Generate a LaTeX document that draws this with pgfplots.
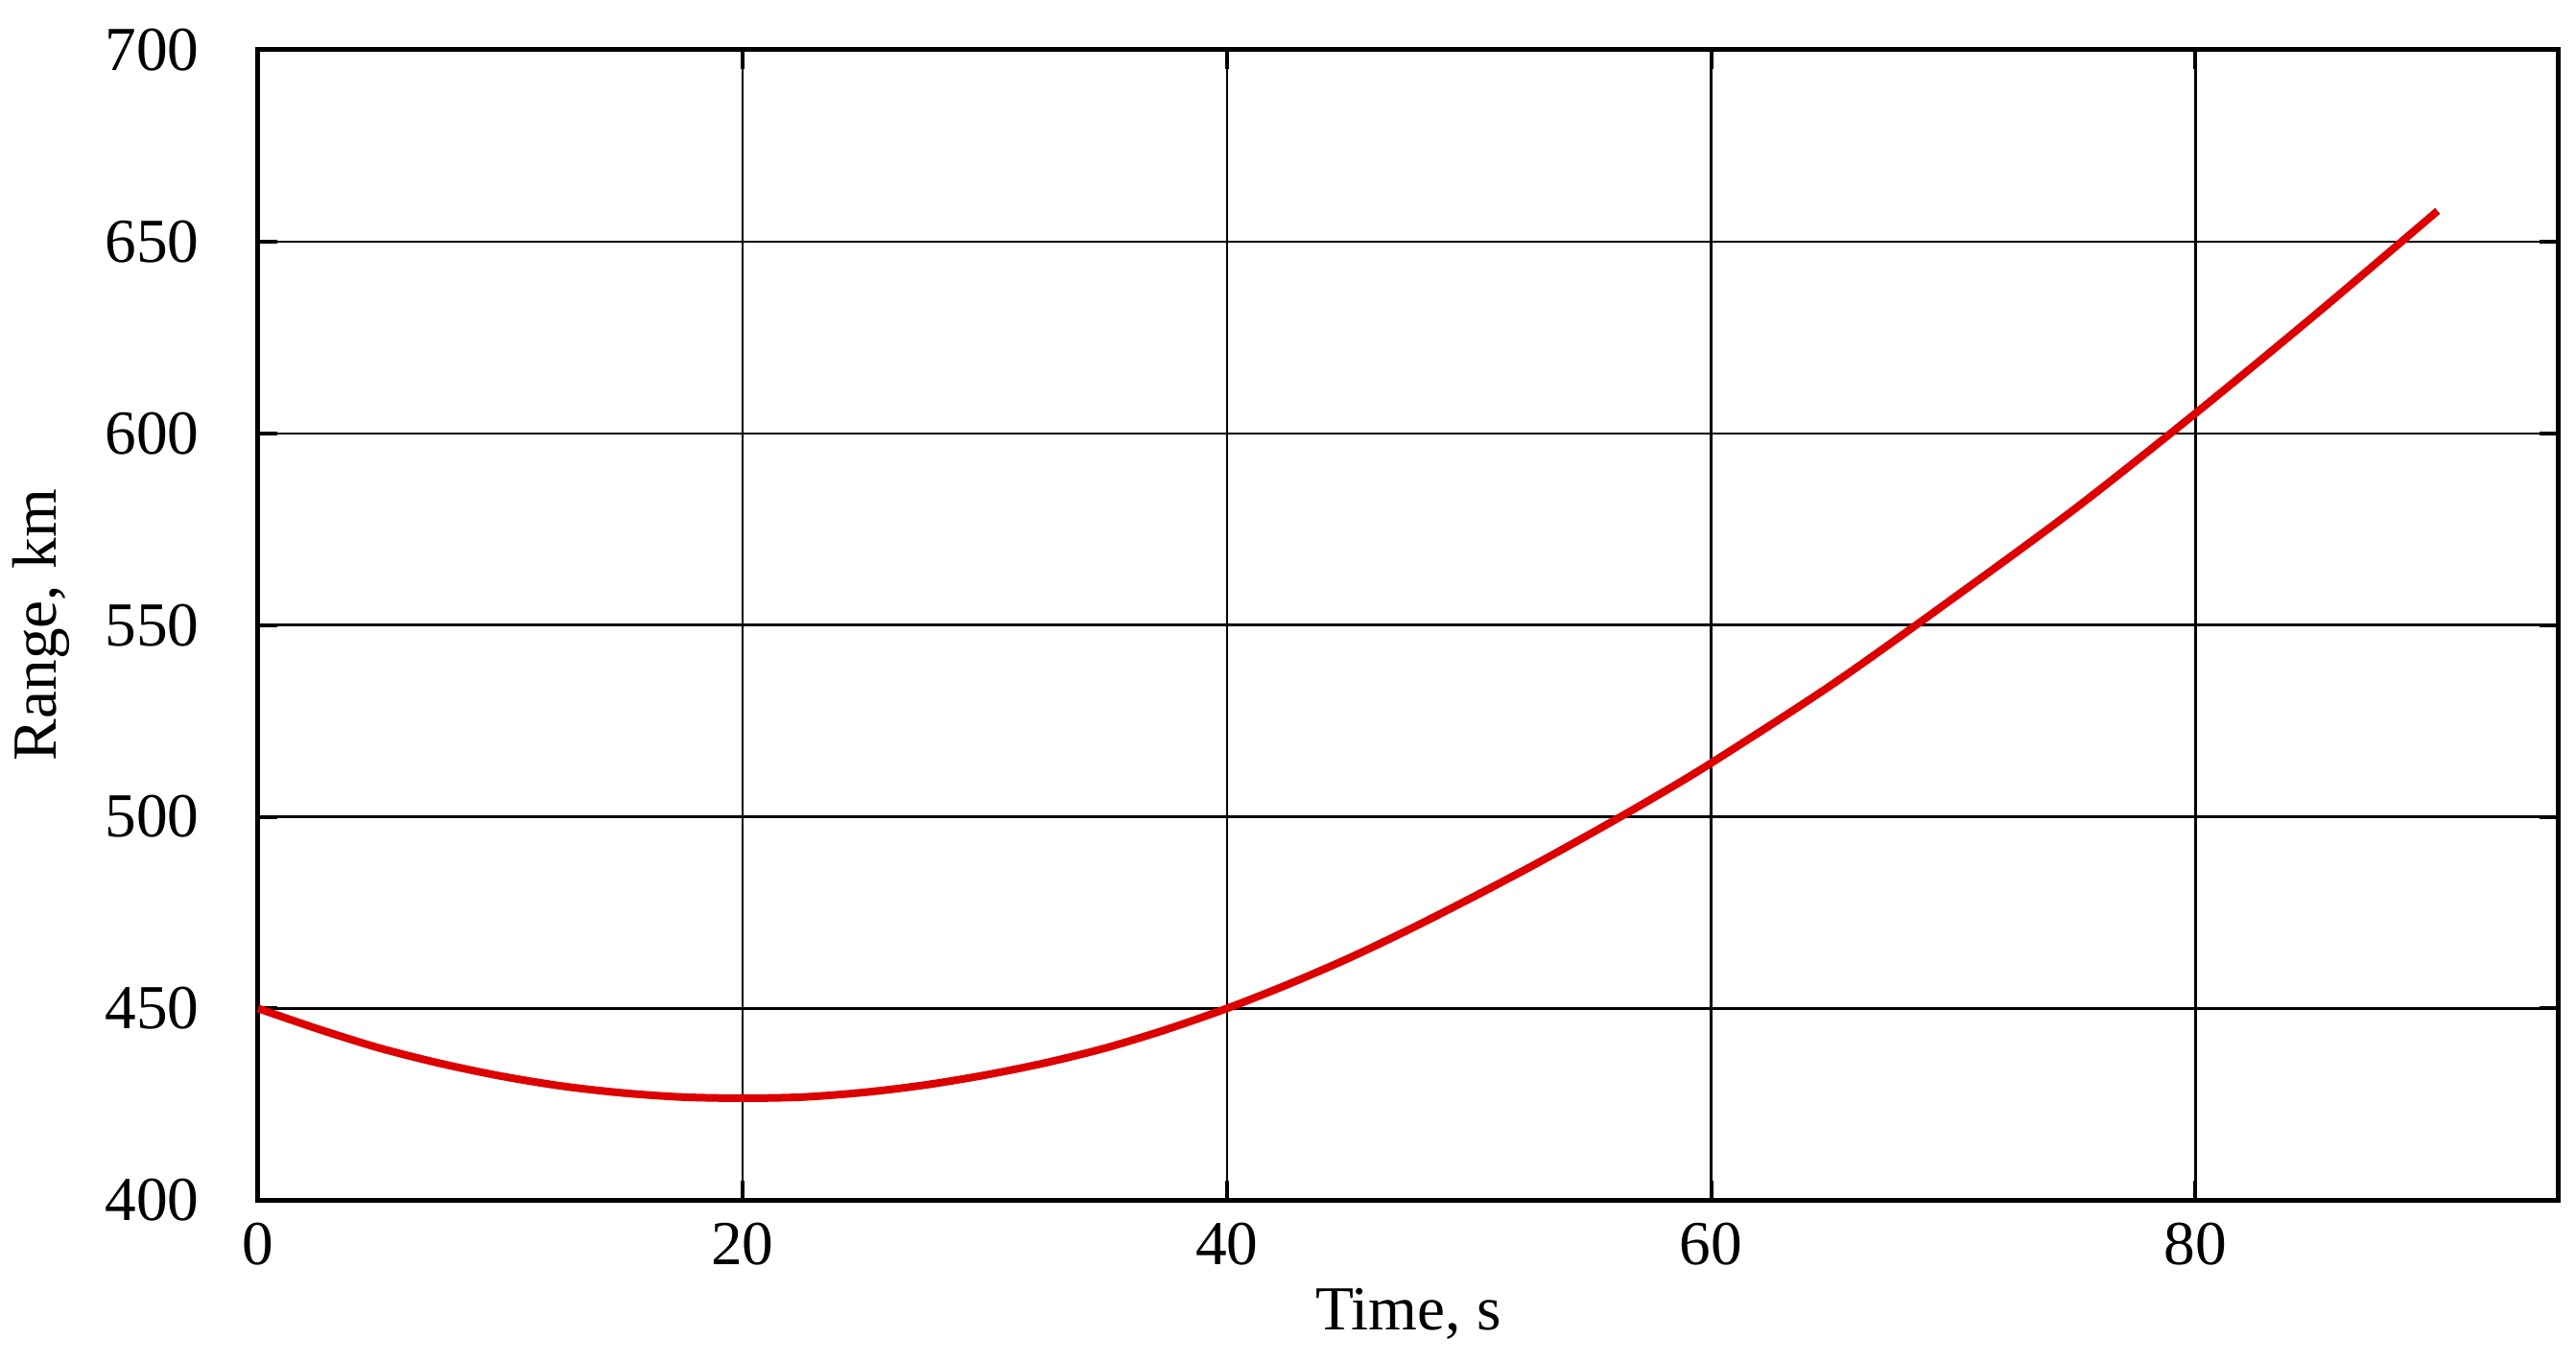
\documentclass[border=0pt]{standalone}
\usepackage{fontspec}
\setmainfont{Liberation Serif}
\usepackage{pgfplots}
\pgfplotsset{compat=1.18}

\definecolor{rangered}{HTML}{DD0000}

\begin{document}
\fontsize{9.8}{12}\selectfont
\begin{tikzpicture}
\begin{axis}[
    name=ax,
    scale only axis,
    width=359.7pt,
    height=179.9pt,
    xmin=0, xmax=95,
    ymin=400, ymax=700,
    xtick={0,20,40,60,80},
    ytick={400,450,...,700},
    grid=major,
    major grid style={black, line width=0.35pt},
    axis line style={black, line width=0.75pt},
    tick align=inside,
    major tick length=3pt,
    tick style={black, line width=0.6pt},
    /pgf/number format/assume math mode=true,
    every tick label/.append style={font=\fontsize{9.8}{12}\selectfont},
    yticklabel style={inner sep=0pt, anchor=east, xshift=-9pt},
    xticklabel style={inner sep=0pt, anchor=north, yshift=-3.4pt},
    xlabel={Time, s},
    ylabel={Range, km},
    every axis x label/.style={at={(axis description cs:0.5,-0.0992)}, anchor=center, inner sep=0pt},
    every axis y label/.style={at={(axis description cs:-0.0943,0.5)}, rotate=90, anchor=center, inner sep=0pt},
    clip=false,
]
% range vs time
\addplot[color=rangered, line width=1.2pt, smooth, mark=none] coordinates {
    (0,450) (2.5,444.6) (5,439.7) (7.5,435.7) (10,432.4)
    (12.5,429.8) (15,428.0) (17.5,426.9) (20,426.6)
    (22.5,426.9) (25,428.1) (27.5,430.0) (30,432.6)
    (32.5,435.8) (35,439.7) (37.5,444.5) (40,450)
    (42.5,456.2) (45,463) (47.5,470.5) (50,478.5)
    (52.5,486.8) (55,495.5) (57.5,504.5) (60,514)
    (65,534.5) (70,557) (75,580.2) (80,605.2) (85,631.2) (90,658)
};
\end{axis}
% fix the page to the reference margins
\path (ax.south west) ++(-40.35pt,-25.2pt) rectangle ([shift={(2.7pt,7.8pt)}]ax.north east);
\end{tikzpicture}
\end{document}
